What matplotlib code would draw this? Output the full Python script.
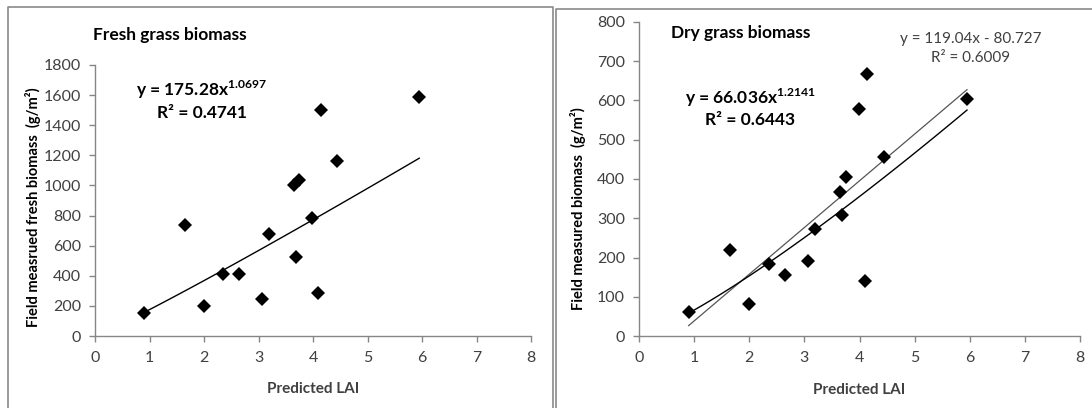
import numpy as np
import matplotlib
matplotlib.use('Agg')
from matplotlib import pyplot as plt
from matplotlib.lines import Line2D

plt.rcParams['font.family'] = ['Lato', 'DejaVu Sans']
plt.rcParams['mathtext.fontset'] = 'custom'
plt.rcParams['mathtext.rm'] = 'Lato'
plt.rcParams['mathtext.bf'] = 'Lato:bold'

# predicted LAI per plot (shared by both panels)
lai = [0.9, 1.65, 2.0, 2.35, 2.65, 3.06, 3.2, 3.65, 3.75, 3.68, 3.99, 4.1, 4.14, 4.44, 5.95]
# field measured biomass, g/m2
fresh = [155, 740, 200, 415, 415, 248, 680, 1005, 1038, 522, 783, 283, 1503, 1162, 1585]
dry = [62, 219, 82, 184, 155, 190, 273, 366, 405, 309, 578, 140, 668, 455, 604]

# fitted trend lines
fresh_pow = (175.28, 1.0697)
dry_pow = (66.036, 1.2141)
dry_lin = (119.04, -80.727)

W, H = 1092, 408
TXT = '#404040'
GRID = '#868686'


def px(x, y):
    # pixel position -> figure fraction
    return x / W, 1 - y / H


def style_axes(ax, ymax, ystep):
    ax.set_xlim(0, 8)
    ax.set_ylim(0, ymax)
    ax.set_xticks(range(0, 9))
    ax.set_yticks(np.arange(0, ymax + 1, ystep))
    for s in ['top', 'right']:
        ax.spines[s].set_visible(False)
    for s in ['left', 'bottom']:
        ax.spines[s].set_color(GRID)
        ax.spines[s].set_linewidth(1.0)
    ax.tick_params(direction='out', length=4, width=1.0, color=GRID,
                   labelsize=11.5, labelcolor=TXT)
    ax.tick_params(axis='x', pad=7)
    ax.tick_params(axis='y', pad=6)
    ax.set_facecolor('none')


fig = plt.figure(figsize=(W / 100, H / 100), dpi=100)

# panel frames
fc = '#8a8a8a'
fig.add_artist(Line2D([8 / W, 8 / W, 553 / W, 553 / W], [0, 1 - 7 / H, 1 - 7 / H, 0],
                      transform=fig.transFigure, color=fc, lw=1.2))
fig.add_artist(Line2D([556 / W, 556 / W, 1], [0, 1 - 9 / H, 1 - 9 / H],
                      transform=fig.transFigure, color=fc, lw=1.2))

x = np.array(lai)
xs = np.linspace(x.min(), x.max(), 100)

# fresh biomass
ax1 = fig.add_axes([95 / W, 1 - 336 / H, 436 / W, 271 / H])
style_axes(ax1, 1800, 200)
ax1.plot(xs, fresh_pow[0] * xs ** fresh_pow[1], color='black', lw=1.0)
ax1.plot(lai, fresh, 'D', color='black', ms=7, mew=0)
ax1.set_xlabel('Predicted LAI', fontsize=11, fontweight='bold', color=TXT)
ax1.xaxis.set_label_coords(0.5, -0.17)

fig.text(*px(93, 35), 'Fresh grass biomass', fontsize=12.5, fontweight='bold',
         va='center', ha='left')
fig.text(*px(202, 90), 'y = 175.28x$^{\\mathbf{1.0697}}$', fontsize=12.5,
         fontweight='bold', va='center', ha='center')
fig.text(*px(202, 113), 'R² = 0.4741', fontsize=12.5, fontweight='bold',
         va='center', ha='center')
fig.text(*px(33, 207), 'Field measrued fresh biomass  (g/m²)', fontsize=10.5,
         fontweight='bold', rotation=90, va='center', ha='center')

# dry biomass
ax2 = fig.add_axes([639 / W, 1 - 336 / H, 441 / W, 314 / H])
style_axes(ax2, 800, 100)
ax2.plot(xs, dry_lin[0] * xs + dry_lin[1], color='#555555', lw=0.9)
ax2.plot(xs, dry_pow[0] * xs ** dry_pow[1], color='black', lw=1.0)
ax2.plot(lai, dry, 'D', color='black', ms=7, mew=0)
ax2.set_xlabel('Predicted LAI', fontsize=11, fontweight='bold', color=TXT)
ax2.xaxis.set_label_coords(0.5, -0.15)

fig.text(*px(671, 33), 'Dry grass biomass', fontsize=12.5, fontweight='bold',
         va='center', ha='left')
fig.text(*px(750, 98), 'y = 66.036x$^{\\mathbf{1.2141}}$', fontsize=12.5,
         fontweight='bold', va='center', ha='center')
fig.text(*px(750, 120), 'R² = 0.6443', fontsize=12.5, fontweight='bold',
         va='center', ha='center')
fig.text(*px(971, 39), 'y = 119.04x - 80.727', fontsize=11, color=TXT,
         va='center', ha='center')
fig.text(*px(971, 58), 'R² = 0.6009', fontsize=11, color=TXT,
         va='center', ha='center')
fig.text(*px(578, 209), 'Field measured biomass  (g/m²)', fontsize=10.5,
         fontweight='bold', rotation=90, va='center', ha='center')

fig.savefig('out.png', dpi=100)
